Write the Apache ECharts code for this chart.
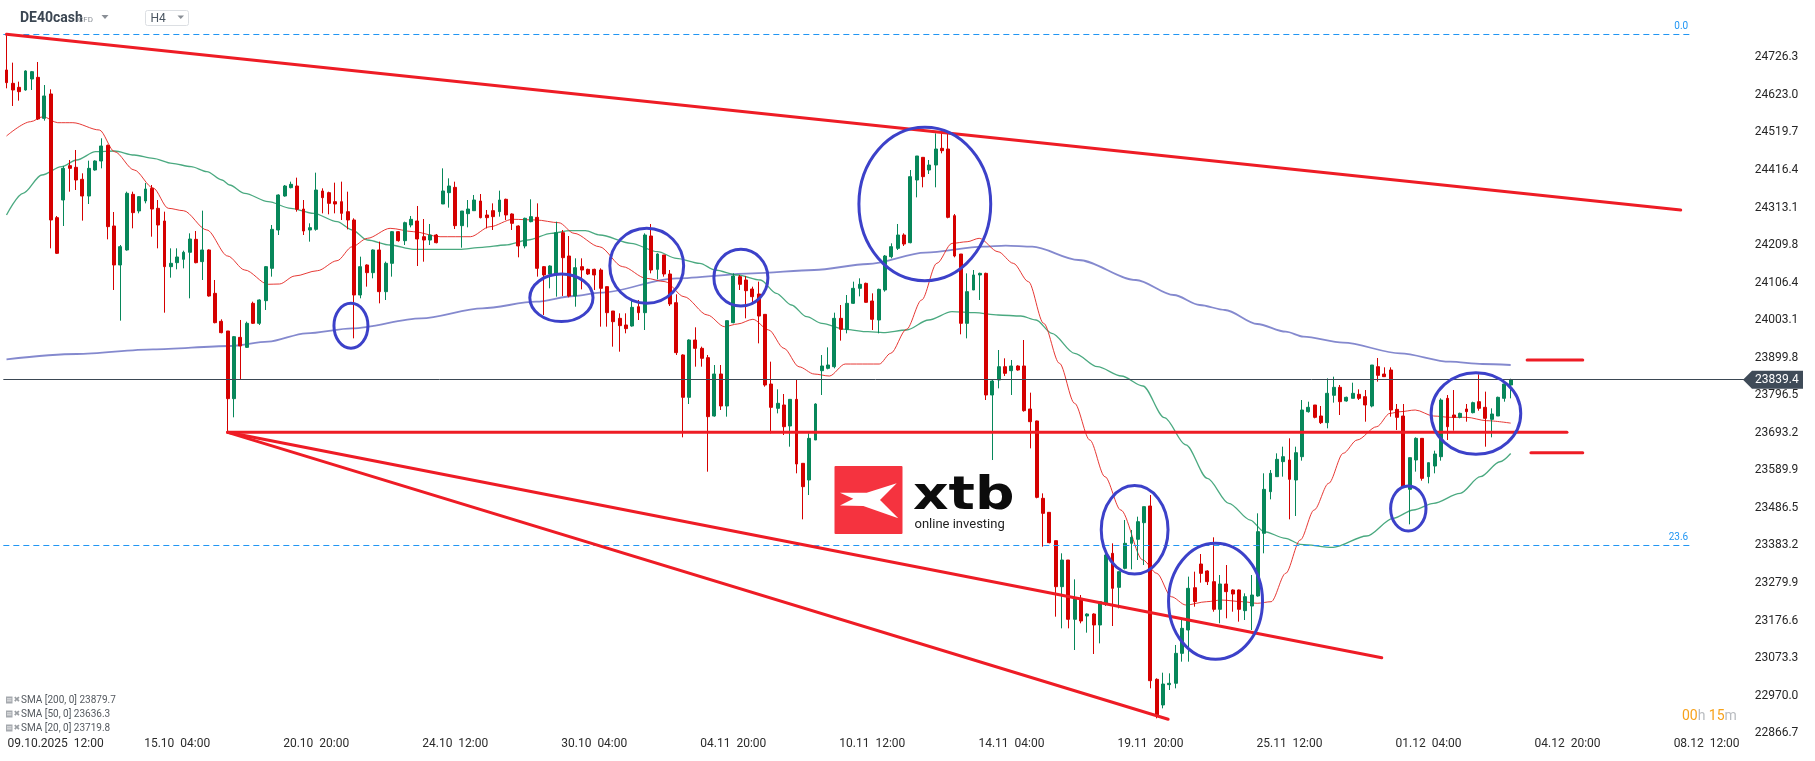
<!DOCTYPE html>
<html><head><meta charset="utf-8">
<script src="https://cdn.jsdelivr.net/npm/echarts@6/dist/echarts.min.js"></script>
<style>html,body{margin:0;padding:0;background:#fff}#c{width:1815px;height:761px}</style>
</head><body><div id="c"></div>
<script>
// ---- candles: [open, close, low, high] ----
const candles = [
[24691.4,24656.6,24641.0,24791.0],[24654.7,24636.4,24592.4,24711.6],[24643.7,24631.8,24607.0,24659.3],[24636.4,24688.7,24634.5,24690.5],
[24666.6,24686.8,24636.4,24688.7],[24671.2,24556.6,24553.8,24713.4],[24558.4,24619.9,24552.0,24650.1],[24625.4,24278.7,24200.7,24638.2],
[24285.1,24187.0,24185.1,24289.7],[24333.7,24420.8,24262.2,24427.3],[24428.2,24420.8,24356.6,24443.8],[24423.6,24388.7,24361.2,24471.3],
[24390.6,24344.7,24276.9,24407.1],[24344.7,24420.8,24322.7,24441.9],[24416.3,24441.0,24414.4,24442.9],[24441.0,24482.3,24420.8,24503.4],
[24484.1,24260.4,24225.5,24486.0],[24262.2,24154.9,24086.1,24300.7],[24154.9,24205.3,24001.7,24209.9],[24196.2,24352.1,24194.3,24356.6],
[24349.3,24298.9,24255.8,24356.6],[24303.5,24342.9,24297.0,24344.7],[24331.0,24364.0,24324.5,24380.5],[24365.8,24308.9,24232.8,24375.0],
[24310.8,24264.9,24200.7,24333.7],[24275.9,24150.3,24023.7,24301.6],[24150.3,24159.5,24120.0,24200.7],[24161.3,24176.9,24143.0,24200.7],
[24170.5,24189.8,24145.7,24194.3],[24189.8,24226.4,24063.2,24242.0],[24225.5,24161.3,24159.5,24248.4],[24164.1,24196.2,24113.6,24304.4],
[24196.2,24069.6,24067.8,24198.0],[24076.9,23996.2,23994.4,24113.6],[23999.9,23968.7,23966.9,24005.4],[23973.3,23787.1,23697.0,23973.3],
[23787.1,23957.7,23735.8,23959.5],[23955.8,23932.0,23838.5,24003.6],[23928.3,23994.4,23926.5,23999.0],[24049.4,23994.4,23992.5,24054.0],
[23994.4,24058.6,23989.8,24060.4],[24056.7,24150.3,24031.1,24152.1],[24145.7,24253.0,24122.8,24264.9],[24251.2,24347.5,24237.4,24349.3],
[24344.7,24372.2,24342.9,24375.0],[24367.7,24376.8,24365.8,24384.2],[24372.2,24308.0,24301.6,24395.2],[24308.9,24248.4,24237.4,24333.7],
[24251.2,24257.6,24219.1,24269.5],[24253.0,24361.2,24249.3,24408.9],[24358.5,24340.1,24297.0,24365.8],[24353.9,24324.5,24294.3,24356.6],
[24329.1,24322.7,24297.0,24381.4],[24329.1,24297.0,24278.7,24384.2],[24301.6,24278.7,24253.0,24356.6],[24278.7,24072.3,23953.1,24283.3],
[24072.3,24150.3,24063.2,24177.8],[24154.9,24133.8,24095.3,24156.7],[24133.8,24196.2,24118.2,24198.0],[24196.2,24081.5,24049.4,24219.1],
[24081.5,24159.5,24058.6,24164.1],[24159.5,24246.6,24122.8,24248.4],[24246.6,24221.8,24219.1,24248.4],[24221.8,24271.3,24209.9,24274.1],
[24264.9,24280.5,24258.5,24289.7],[24275.9,24226.4,24152.1,24317.2],[24232.8,24223.6,24164.0,24281.4],[24223.6,24237.4,24209.9,24267.7],
[24237.4,24216.3,24214.5,24240.2],[24322.7,24358.5,24322.7,24420.8],[24353.9,24372.2,24312.6,24393.3],[24368.5,24263.1,24253.9,24384.1],
[24263.1,24303.4,24202.5,24303.4],[24296.1,24308.9,24258.5,24333.7],[24304.3,24333.7,24304.3,24347.5],[24330.9,24285.1,24283.2,24350.2],
[24292.4,24285.1,24255.7,24306.2],[24304.4,24287.9,24251.2,24324.5],[24301.6,24333.7,24287.9,24359.4],[24335.6,24292.5,24278.7,24337.4],
[24295.2,24269.5,24251.2,24297.0],[24262.2,24207.2,24176.0,24264.0],[24207.2,24283.3,24200.7,24285.1],[24274.1,24287.9,24272.3,24335.6],
[24286.0,24145.7,24122.8,24324.5],[24150.3,24127.4,24017.3,24152.1],[24130.1,24152.1,24090.7,24154.0],[24130.1,24243.8,24067.8,24274.1],
[24243.8,24175.0,24069.6,24251.2],[24179.6,24069.6,24065.9,24234.7],[24069.6,24147.5,24040.2,24173.2],[24150.3,24141.1,24087.9,24173.2],
[24142.9,24130.1,24127.4,24144.8],[24142.9,24127.4,24086.1,24144.8],[24141.1,24090.7,23985.2,24145.7],[24095.3,24023.7,23985.2,24095.3],
[24028.3,23998.9,23930.2,24028.3],[24008.1,23988.0,23916.4,24021.9],[23989.8,23979.7,23966.9,24021.9],[23987.0,24038.4,23985.2,24058.6],
[24040.2,24023.7,24003.5,24058.6],[24023.7,24237.4,23976.0,24242.0],[24234.7,24141.1,24131.9,24267.7],[24142.9,24185.1,24115.4,24186.9],
[24182.4,24130.1,24122.8,24182.4],[24130.1,24047.6,24042.1,24141.1],[24051.2,23913.7,23907.3,24074.2],[23907.3,23790.8,23680.7,23909.1],
[23790.8,23948.5,23772.4,23950.4],[23948.5,23925.6,23875.1,23983.4],[23925.6,23898.1,23875.1,23930.2],[23899.9,23737.6,23586.2,23907.3],
[23739.4,23855.0,23737.6,23879.7],[23855.0,23766.9,23755.9,23879.7],[23766.9,24001.7,23737.6,24001.7],[23996.2,24124.6,23994.4,24131.9],
[24122.8,24101.7,24086.1,24127.4],[24113.6,24084.2,24008.1,24124.6],[24088.8,24067.7,24051.2,24095.3],[24075.1,24014.5,23939.3,24109.0],
[24019.1,23824.7,23820.1,24019.1],[23827.4,23763.2,23691.7,23888.9],[23760.5,23774.3,23746.7,23812.8],[23769.7,23710.0,23687.1,23799.9],
[23711.9,23785.2,23655.0,23785.3],[23785.2,23607.4,23581.7,23838.5],[23609.2,23545.0,23455.1,23609.2],[23563.3,23677.9,23522.0,23691.7],
[23673.4,23772.4,23673.4,23774.3],[23864.1,23877.0,23797.2,23907.2],[23870.5,23879.7,23867.8,23928.3],[23875.1,24008.1,23870.6,24023.7],
[24008.1,23977.8,23946.7,24044.8],[23977.8,24049.4,23966.8,24072.3],[24049.4,24090.7,24047.6,24109.0],[24090.7,24101.7,24068.6,24118.2],
[24104.4,24052.2,24051.2,24106.3],[24055.8,24005.4,23976.0,24076.9],[24003.5,24087.9,23966.9,24089.8],[24086.1,24179.6,24081.5,24182.4],
[24177.8,24205.3,24173.2,24214.5],[24200.7,24237.4,24196.1,24267.7],[24237.4,24212.6,24207.2,24242.0],[24216.3,24397.9,24214.5,24416.2],
[24388.7,24454.8,24341.0,24454.8],[24451.1,24397.9,24368.6,24451.1],[24416.2,24430.0,24405.2,24443.8],[24430.0,24474.0,24368.6,24517.1],
[24475.9,24469.4,24462.1,24521.7],[24474.0,24286.0,24283.3,24517.1],[24290.6,24179.6,24176.0,24295.2],[24185.1,23994.4,23964.1,24185.1],
[23994.4,24081.5,23953.1,24131.9],[24086.1,24127.4,24086.1,24141.1],[24127.4,24131.9,24058.6,24133.8],[24131.9,23797.2,23783.4,24133.8],
[23797.2,23835.7,23618.3,23838.5],[23838.5,23875.1,23815.5,23921.0],[23875.1,23856.8,23849.5,23898.1],[23864.1,23877.0,23797.2,23893.5],
[23877.0,23866.0,23864.1,23878.8],[23877.0,23754.1,23751.3,23948.5],[23758.7,23723.8,23650.4,23803.6],[23725.7,23515.6,23512.9,23726.6],
[23512.9,23471.6,23379.9,23526.6],[23474.4,23390.9,23389.0,23474.4],[23396.4,23269.8,23187.3,23396.4],[23269.8,23343.2,23155.2,23361.6],
[23343.2,23180.0,23155.2,23343.2],[23180.0,23237.7,23095.6,23290.0],[23237.7,23175.4,23169.0,23246.9],[23189.1,23194.6,23143.3,23196.5],
[23194.6,23164.4,23084.6,23196.5],[23164.4,23228.6,23113.9,23228.6],[23222.2,23357.0,23216.6,23361.6],[23361.6,23265.3,23161.6,23389.1],
[23268.0,23311.1,23210.2,23311.1],[23320.3,23389.1,23317.5,23453.3],[23389.1,23405.6,23317.5,23425.8],[23400.1,23448.7,23343.2,23462.4],
[23445.9,23490.0,23329.4,23490.0],[23491.8,23011.2,22990.1,23522.0],[23014.9,22916.8,22907.6,23017.6],[22944.3,23002.0,22935.1,23033.2],
[23000.3,23004.0,22985.5,23031.4],[23004.0,23086.4,22990.1,23109.4],[23086.4,23155.2,23063.5,23178.1],[23150.6,23265.3,23063.5,23297.4],
[23267.0,23228.6,23214.8,23311.1],[23332.2,23306.5,23280.8,23359.7],[23313.0,23283.6,23274.4,23315.0],[23283.6,23207.5,23201.0,23405.6],
[23207.5,23277.2,23169.0,23301.9],[23277.2,23256.1,23182.7,23329.4],[23260.7,23249.6,23201.0,23262.5],[23260.7,23207.5,23173.6,23262.0],
[23203.8,23242.3,23178.1,23251.5],[23216.6,23246.9,23150.6,23301.9],[23244.2,23421.2,23242.3,23471.6],[23416.6,23537.6,23361.6,23581.7],
[23531.2,23581.7,23510.1,23590.8],[23572.5,23620.2,23572.5,23636.7],[23613.8,23627.5,23572.5,23655.0],[23618.4,23565.2,23455.1,23678.0],
[23563.3,23638.5,23464.3,23655.0],[23627.5,23755.9,23616.5,23783.4],[23751.3,23763.3,23748.6,23778.8],[23769.7,23735.7,23733.0,23769.7],
[23739.4,23721.1,23717.4,23766.9],[23721.1,23801.8,23705.5,23843.0],[23796.3,23818.3,23776.1,23847.6],[23818.3,23778.8,23742.2,23824.7],
[23780.7,23790.8,23778.8,23792.6],[23788.0,23801.8,23788.0,23831.1],[23799.0,23788.0,23783.4,23812.8],[23792.6,23769.7,23723.8,23810.9],
[23766.9,23879.7,23763.3,23879.7],[23875.1,23851.3,23833.9,23899.0],[23854.9,23847.6,23847.6,23873.3],[23866.0,23755.9,23737.6,23873.3],
[23757.7,23735.7,23700.9,23772.4],[23739.4,23545.0,23545.0,23772.4],[23537.6,23624.8,23441.3,23624.8],[23618.4,23677.9,23586.3,23680.7],
[23677.9,23567.9,23561.5,23677.9],[23572.5,23611.0,23554.1,23611.0],[23601.8,23634.9,23581.7,23644.0],[23627.5,23783.4,23616.5,23788.0],
[23788.0,23710.0,23673.4,23797.2],[23742.2,23735.7,23699.1,23810.9],[23735.7,23746.7,23733.0,23748.6],[23758.7,23751.3,23723.8,23772.4],
[23748.6,23776.1,23746.7,23778.8],[23778.8,23760.5,23754.0,23854.0],[23763.3,23733.0,23655.0,23806.4],[23730.2,23744.9,23680.7,23760.5],
[23739.4,23790.8,23739.4,23792.6],[23788.0,23827.4,23778.8,23827.4],[23824.7,23839.4,23788.0,23842.0]
];
// ---- moving averages: [bar index, value] ----
const sma20 = [[0,24509.8],[3.8,24549.1],[5.8,24562.9],[8.1,24546.4],[10.5,24546.4],[14.7,24526.3],[17.1,24466.6],[20.2,24416.3],[23.2,24366.7],[25.6,24310.9],[28.0,24304.3],[31.7,24251.2],[35.0,24179.6],[37.7,24141.1],[41.4,24101.8],[43.2,24102.6],[45.6,24124.6],[49.2,24139.2],[52.3,24166.7],[54.7,24205.2],[57.1,24228.3],[60.7,24255.8],[64.4,24246.5],[68.6,24232.7],[73.4,24232.7],[76.5,24260.2],[80.1,24280.6],[83.8,24278.7],[87.4,24271.2],[89.8,24242.1],[93.8,24205.2],[97.5,24150.2],[101.2,24118.3],[104.2,24109.0],[107.2,24067.7],[110.9,24017.3],[113.6,23985.2],[115.7,23992.6],[118.1,24005.5],[120.6,23976.1],[123.0,23925.7],[125.4,23874.8],[127.8,23854.9],[130.2,23849.4],[132.7,23882.4],[136.3,23882.4],[138.1,23882.4],[139.9,23911.9],[142.4,23977.9],[144.8,24058.6],[147.2,24159.5],[149.6,24214.4],[152.0,24218.9],[153.9,24228.3],[156.9,24191.3],[159.3,24159.5],[161.7,24108.9],[164.1,23994.4],[166.6,23884.4],[169.0,23774.3],[171.4,23673.4],[173.8,23572.4],[176.3,23480.8],[179.8,23343.2],[182.0,23306.6],[184.3,23242.2],[186.6,23219.4],[189.9,23228.5],[192.2,23233.1],[195.6,23228.5],[197.9,23224.1],[200.1,23228.5],[202.4,23306.6],[204.7,23398.2],[206.9,23480.8],[209.2,23554.2],[211.5,23636.7],[213.7,23673.4],[216.8,23710.0],[218.9,23746.8],[220.5,23751.2],[222.9,23755.9],[225.8,23739.4],[228.4,23735.8],[231.0,23735.8],[234.2,23726.5],[238,23719.8]];
const sma50 = [[0,24292.4],[2.6,24352.1],[5.6,24402.5],[8.7,24425.3],[11.1,24443.8],[14.1,24466.6],[17.1,24468.5],[20.2,24457.5],[23.2,24448.4],[26.2,24434.7],[29.2,24425.3],[31.7,24411.6],[34.1,24388.7],[35.3,24375.0],[37.7,24352.1],[41.4,24329.0],[45.0,24310.9],[48.6,24297.1],[52.3,24274.0],[54.7,24251.2],[57.1,24223.6],[60.7,24209.9],[64.4,24198.1],[68.0,24198.1],[71.6,24198.1],[75.3,24203.6],[78.9,24209.9],[82.5,24223.6],[86.2,24242.1],[89.2,24249.2],[91.6,24249.2],[93.9,24237.4],[98.8,24214.6],[103.0,24191.5],[106.0,24173.3],[109.7,24159.5],[112.1,24141.1],[115.7,24127.3],[119.3,24113.6],[121.8,24077.0],[124.2,24044.8],[126.6,24012.6],[129.0,23994.4],[132.7,23977.9],[136.3,23971.3],[138.7,23968.6],[142.4,23976.0],[145.9,24003.5],[149.6,24026.4],[153.2,24023.6],[156.9,24017.3],[160.5,24014.5],[162.9,24003.5],[165.4,23966.9],[169.0,23911.9],[172.6,23875.0],[176.4,23849.4],[179.8,23821.9],[183.2,23735.0],[186.6,23660.0],[190.0,23567.9],[193.4,23499.2],[196.8,23453.2],[199.0,23421.0],[202.4,23402.9],[204.7,23386.4],[209.9,23378.1],[215.2,23409.2],[219.4,23457.9],[222.6,23480.8],[225.8,23499.2],[230.0,23526.7],[233.2,23572.4],[236.3,23613.6],[238,23636.3]];
const sma200 = [[0,23895.4],[11.1,23910.0],[23.2,23922.9],[35.3,23932.0],[41.4,23943.9],[47.4,23967.0],[54.7,23980.7],[65.6,24008.2],[75.3,24035.7],[83.8,24053.9],[89.8,24069.6],[93.9,24078.6],[106.0,24118.3],[118.1,24132.0],[127.8,24141.1],[136.3,24157.6],[145.4,24188.7],[154.5,24205.2],[158.1,24208.0],[162.3,24205.2],[169.6,24168.6],[178.7,24113.6],[184.7,24072.3],[188.8,24044.8],[192.8,24031.1],[197.9,23992.6],[202.4,23971.3],[205.2,23957.6],[211.5,23941.1],[220.5,23911.9],[228.4,23888.8],[233.5,23882.5],[238,23879.7]];
// ---- axes ----
const tickLabels = ['09.10.2025  12:00','15.10  04:00','20.10  20:00','24.10  12:00','30.10  04:00','04.11  20:00','10.11  12:00','14.11  04:00','19.11  20:00','25.11  12:00','01.12  04:00','04.12  20:00','08.12  12:00'];
const firstTick = 5, tickStep = 22, slotCount = 276;
const categories = Array.from({length: slotCount}, (_, i) => String(i));
const yTickLabels = ['22866.7','22970.0','23073.3','23176.6','23279.9','23383.2','23486.5','23589.9','23693.2','23796.5','23899.8','24003.1','24106.4','24209.8','24313.1','24416.4','24519.7','24623.0','24726.3'];
const yBase = 22866.652, yStep = 103.3147, yTop = 24883.98;
const lastPrice = 23839.4;
// ---- annotations (data coordinates) ----
const fibLevels = [['0.0', 24789.6], ['23.6', 23383.0]];
const fibEnd = 266.4;
const trendLines = [
  [[0, 24789.6], [264.9, 24306.2]],
  [[35, 23694.5], [246.9, 23694.5]],
  [[35, 23694.5], [217.6, 23074.4]],
  [[35, 23694.5], [183.8, 22904.9]],
  [[240.6, 23893.5], [249.4, 23893.5]],
  [[241.2, 23638.4], [249.4, 23638.4]]
];
const circled = [[54.5,23987.6],[87.8,24064.6],[101.3,24152.7],[116.2,24120.0],[145.3,24322.7],[178.5,23426.3],[191.3,23229.6],[221.8,23484.9],[232.5,23746.3]];
const circleRadii = [[17,22.5],[31.6,23.8],[36.9,37.5],[27,28.3],[65.9,76.7],[33.4,44.2],[47,58],[17.7,22.5],[44.8,40.8]];
const smaLegend = [['SMA [200, 0]','23879.7'],['SMA [50, 0]','23636.3'],['SMA [20, 0]','23719.8']];

const UP = '#07875a', DOWN = '#d50000', TREND = '#ee1c25', ELL = '#3c41c9';
const chart = echarts.init(document.getElementById('c'), null, {renderer: 'canvas'});

const series = [
  {type:'line', xAxisIndex:1, data:sma200, showSymbol:false, smooth:0.3, smoothMonotone:'x', z:1, silent:true,
   lineStyle:{color:'#6f74c6', width:1.8, opacity:0.85},
   markLine:{symbol:'none', silent:true, animation:false,
     lineStyle:{color:'#2196f3', type:[6,4], width:1, opacity:1},
     label:{position:'insideEndTop', color:'#2196f3', fontSize:10, fontFamily:'Roboto', distance:[2,3], formatter:p=>p.name},
     data: fibLevels.map(f => [{name:f[0], coord:[-0.5, f[1]]}, {coord:[fibEnd, f[1]]}])}},
  {type:'line', xAxisIndex:1, data:sma50, showSymbol:false, smooth:0.3, smoothMonotone:'x', z:1, silent:true,
   lineStyle:{color:'#2a9a6a', width:1.3, opacity:0.85}},
  {type:'line', xAxisIndex:1, data:sma20, showSymbol:false, smooth:0.3, smoothMonotone:'x', z:1, silent:true,
   lineStyle:{color:'#e3231f', width:1, opacity:0.9}},
  {type:'candlestick', xAxisIndex:0, data:candles, barWidth:3.4, z:3,
   itemStyle:{color:UP, color0:DOWN, borderColor:UP, borderColor0:DOWN, borderWidth:1},
   markLine:{symbol:'none', silent:true, animation:false, label:{show:false},
     lineStyle:{color:'#3b4753', width:1, type:'solid'}, data:[{yAxis:lastPrice}]}}
];
trendLines.forEach(l => series.push({type:'line', xAxisIndex:1, data:l, showSymbol:false, z:5, silent:true,
  lineStyle:{color:TREND, width:3, cap:'round'}}));
series.push({type:'custom', xAxisIndex:1, data:circled, z:8, silent:true,
  renderItem:(params, api) => {
    const p = api.coord([api.value(0), api.value(1)]);
    const r = circleRadii[params.dataIndex];
    return {type:'ellipse', shape:{cx:p[0], cy:p[1], rx:r[0], ry:r[1]}, style:{fill:'none', stroke:ELL, lineWidth:3}};
  }});
series.push({type:'custom', xAxisIndex:1, data:[[candles.length-1, lastPrice]], z:9, silent:true, clip:false,
  renderItem:(params, api) => {
    const y = api.coord([api.value(0), api.value(1)])[1];
    return {type:'group', children:[
      {type:'polygon', shape:{points:[[1743,y],[1752,y-9],[1803,y-9],[1803,y+9],[1752,y+9]]}, style:{fill:'#3f4b58'}},
      {type:'text', x:1755, y:y, style:{text:lastPrice.toFixed(1), fill:'#fff', font:'12px Roboto', verticalAlign:'middle', align:'left'}}
    ]};
  }});

const gridBottomPx = 770.76;
chart.setOption({
  animation:false,
  backgroundColor:'#ffffff',
  grid:{left:3.34, right:67.3, top:0, bottom:761-gridBottomPx, containLabel:false, outerBoundsMode:'none'},
  xAxis:[
    {type:'category', data:categories, boundaryGap:true, offset:-(gridBottomPx-734),
     axisLine:{show:false}, axisTick:{show:false}, splitLine:{show:false},
     axisLabel:{show:true, margin:4, color:'#2b2b2b', fontSize:12, fontFamily:'Roboto',
       interval:(idx) => idx >= firstTick && (idx-firstTick) % tickStep === 0 && (idx-firstTick)/tickStep < tickLabels.length,
       formatter:(v, idx) => { const k = (idx-firstTick)/tickStep; const t = tickLabels[k] || ''; return k === 0 ? '{first|' + t + '}' : t; },
       rich:{first:{padding:[0,0,0,35], color:'#2b2b2b', fontSize:12, fontFamily:'Roboto'}}}},
    {type:'value', min:-0.5, max:slotCount-0.5, show:false}
  ],
  yAxis:{type:'value', position:'right', min:yBase-yStep, max:yTop, interval:yStep, scale:true,
    axisLine:{show:false}, axisTick:{show:false}, splitLine:{show:false},
    axisLabel:{margin:7, color:'#262626', fontSize:12, fontFamily:'Roboto', showMaxLabel:false,
      formatter:(v) => { const k = Math.round((v-yBase)/yStep); return (k>=0 && k<yTickLabels.length && Math.abs(v-(yBase+k*yStep))<1) ? yTickLabels[k] : ''; }}},
  series: series,
  graphic:[
    // header
    {type:'text', x:20, y:18.5, style:{text:'DE40cash', font:'bold 14px Roboto', fill:'#3b4652', verticalAlign:'middle'}},
    {type:'text', x:78, y:19.5, style:{text:'CFD', font:'8px Roboto', fill:'#8a8f96', verticalAlign:'middle'}},
    {type:'polygon', shape:{points:[[101.5,15],[108.5,15],[105,19]]}, style:{fill:'#8a8f96'}},
    {type:'rect', shape:{x:145.5, y:10.5, width:43, height:15, r:2}, style:{fill:'#fff', stroke:'#dcdfe3', lineWidth:1}},
    {type:'text', x:150.5, y:19, style:{text:'H4', font:'12px Roboto', fill:'#4a5561', verticalAlign:'middle'}},
    {type:'polygon', shape:{points:[[177.5,15.5],[184,15.5],[180.75,19]]}, style:{fill:'#8a8f96'}},
    // logo
    {type:'group', z:1, children:[
      {type:'rect', shape:{x:834.5, y:466, width:68, height:68, r:1}, style:{fill:'#f5333f'}},
      {type:'polygon', shape:{points:[[840,492.7],[866.7,492.7],[896.7,483.3],[880,500],[898.3,518.3],[863.3,506],[840,505.5],[853.3,498.8]]}, style:{fill:'#ffffff'}},
      {type:'text', x:913, y:497, scaleX:1.2, style:{text:'xtb', font:'bold 46px "DejaVu Sans"', fill:'#0c0c0c', verticalAlign:'middle'}},
      {type:'text', x:914.5, y:525, style:{text:'online investing', font:'13px Roboto', fill:'#222', verticalAlign:'middle'}}
    ]},
    // sma legend
    ...smaLegend.flatMap((s, i) => {
      const y = 700 + i*14;
      return [
        {type:'rect', shape:{x:6, y:y-3.5, width:6.5, height:7}, style:{fill:'#a5a9ae'}},
        {type:'rect', shape:{x:7, y:y-1.5, width:4.5, height:0.8}, style:{fill:'#fff'}},
        {type:'rect', shape:{x:7, y:y+0.5, width:4.5, height:0.8}, style:{fill:'#fff'}},
        {type:'text', x:13.5, y:y, style:{text:'✖', font:'8px "DejaVu Sans"', fill:'#9a9ea3', verticalAlign:'middle'}},
        {type:'text', x:21, y:y, style:{text:s[0] + ' ' + s[1], font:'10px Roboto', fill:'#555a60', verticalAlign:'middle'}}
      ];
    }),
    // countdown
    {type:'text', x:1682, y:716, style:{text:'{o|00}{g|h} {o|15}{g|m}', verticalAlign:'middle',
      rich:{o:{fill:'#f7a21b', font:'14px Roboto', color:'#f7a21b'}, g:{fill:'#b9bcc0', font:'14px Roboto', color:'#b9bcc0'}}}}
  ]
});
</script>
</body></html>
